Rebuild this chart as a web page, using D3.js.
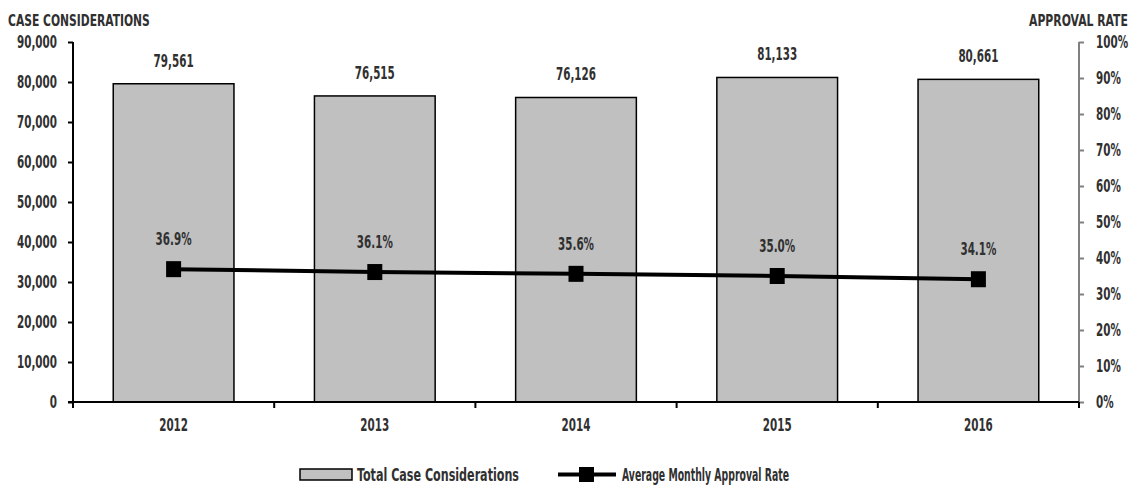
<!DOCTYPE html>
<html>
<head>
<meta charset="utf-8">
<script src="https://cdn.jsdelivr.net/npm/d3@7"></script>
<style>
  html, body { margin: 0; padding: 0; background: #fff; }
  svg text { font-family: "DejaVu Sans Condensed", "DejaVu Sans", sans-serif; font-stretch: condensed; font-weight: bold; fill: #303030; }
</style>
</head>
<body>
<svg id="chart" width="1143" height="485"></svg>
<script>
// Yearly totals and approval rates
const years = ["2012", "2013", "2014", "2015", "2016"];
const caseConsiderations = [79561, 76515, 76126, 81133, 80661];
const approvalRate = [36.9, 36.1, 35.6, 35.0, 34.1];
const leftTicks = [0, 10000, 20000, 30000, 40000, 50000, 60000, 70000, 80000, 90000];
const rightTicks = [0, 10, 20, 30, 40, 50, 60, 70, 80, 90, 100];

const svg = d3.select("#chart");
const plot = { left: 73, right: 1079, top: 42, bottom: 402 };

const x = d3.scaleBand().domain(years).range([plot.left, plot.right]).paddingInner(0).paddingOuter(0);
const yL = d3.scaleLinear().domain([0, 90000]).range([plot.bottom, plot.top]);
const yR = d3.scaleLinear().domain([0, 100]).range([plot.bottom, plot.top]);

const fmt = d3.format(",");
const fontSize = 17;

// Narrow lettering: squeeze every label horizontally by a common factor
let squeeze = 1;
function measureSqueeze() {
  const probe = svg.append("text").attr("font-size", fontSize).text("79,561");
  squeeze = 40 / probe.node().getComputedTextLength();
  probe.remove();
}
function condense(sel) {
  sel.each(function () {
    const el = d3.select(this);
    if (el.attr("textLength") || el.classed("scaled")) return;
    const len = this.getComputedTextLength();
    el.attr("textLength", len * squeeze).attr("lengthAdjust", "spacingAndGlyphs");
  });
}
function fixedWidth(sel, w) {
  return sel.attr("textLength", w).attr("lengthAdjust", "spacingAndGlyphs");
}
// A label squeezed by a transform so that it spans exactly w pixels from (x0, y0)
function scaledLabel(x0, y0, size, str, w) {
  const g = svg.append("g");
  const t = g.append("text").attr("class", "scaled").attr("font-size", size).text(str);
  const len = t.node().getComputedTextLength();
  g.attr("transform", `translate(${x0},${y0}) scale(${w / len},1)`);
  return t;
}
measureSqueeze();

// Bars
const barW = x.bandwidth() * 0.6;
svg.append("g").selectAll("rect").data(years).join("rect")
  .attr("x", d => x(d) + (x.bandwidth() - barW) / 2)
  .attr("y", (d, i) => yL(caseConsiderations[i]))
  .attr("width", barW)
  .attr("height", (d, i) => plot.bottom - yL(caseConsiderations[i]))
  .attr("fill", "#c0c0c0")
  .attr("stroke", "#000")
  .attr("stroke-width", 1.5);

// Bar value labels
svg.append("g").selectAll("text").data(years).join("text")
  .attr("x", d => x(d) + x.bandwidth() / 2)
  .attr("y", (d, i) => yL(caseConsiderations[i]) - 17)
  .attr("text-anchor", "middle")
  .attr("font-size", fontSize)
  .text((d, i) => fmt(caseConsiderations[i]));

// Left axis
const leftAxis = svg.append("g")
  .attr("transform", `translate(${plot.left},0)`)
  .call(d3.axisLeft(yL).tickValues(leftTicks).tickFormat(fmt).tickSize(5).tickPadding(11))
  .attr("font-family", null);
leftAxis.select(".domain").attr("stroke", "#000").attr("stroke-width", 2)
  .attr("d", `M0,${plot.top}V${plot.bottom}`);
leftAxis.selectAll(".tick line").attr("stroke", "#000").attr("stroke-width", 2);
leftAxis.selectAll(".tick text").attr("font-size", fontSize).attr("fill", "#303030");

// Right axis
const rightAxis = svg.append("g")
  .attr("transform", `translate(${plot.right},0)`)
  .call(d3.axisRight(yR).tickValues(rightTicks).tickFormat(d => d + "%").tickSize(5).tickPadding(12))
  .attr("font-family", null);
rightAxis.select(".domain").attr("stroke", "#808080").attr("stroke-width", 2)
  .attr("d", `M0,${plot.top}V${plot.bottom}`);
rightAxis.selectAll(".tick line").attr("stroke", "#808080").attr("stroke-width", 2);
rightAxis.selectAll(".tick text").attr("font-size", fontSize).attr("fill", "#303030");

// Bottom axis with ticks at category boundaries
const bottom = svg.append("g").attr("transform", `translate(0,${plot.bottom})`);
bottom.append("line").attr("x1", plot.left - 5).attr("x2", plot.right)
  .attr("stroke", "#000").attr("stroke-width", 2);
const boundaries = years.map(d => x(d)).concat([plot.right]);
bottom.selectAll("line.b").data(boundaries).join("line").attr("class", "b")
  .attr("x1", d => d).attr("x2", d => d).attr("y1", 0).attr("y2", 6)
  .attr("stroke", "#000").attr("stroke-width", 2);
bottom.selectAll("text").data(years).join("text")
  .attr("x", d => x(d) + x.bandwidth() / 2)
  .attr("y", 29)
  .attr("text-anchor", "middle")
  .attr("font-size", fontSize)
  .text(d => d);

// Approval rate line
const line = d3.line()
  .x((d, i) => x(years[i]) + x.bandwidth() / 2)
  .y(d => yR(d));
svg.append("path").datum(approvalRate)
  .attr("d", line).attr("fill", "none").attr("stroke", "#000").attr("stroke-width", 4);
svg.append("g").selectAll("rect").data(approvalRate).join("rect")
  .attr("x", (d, i) => x(years[i]) + x.bandwidth() / 2 - 7.5)
  .attr("y", d => yR(d) - 8)
  .attr("width", 15).attr("height", 16).attr("fill", "#000");
svg.append("g").selectAll("text").data(approvalRate).join("text")
  .attr("x", (d, i) => x(years[i]) + x.bandwidth() / 2)
  .attr("y", d => yR(d) - 24)
  .attr("text-anchor", "middle")
  .attr("font-size", fontSize)
  .text(d => d.toFixed(1) + "%");

// Axis titles
scaledLabel(8, 26, 16.5, "CASE CONSIDERATIONS", 142);
scaledLabel(1029, 26, 16.5, "APPROVAL RATE", 99);

// Legend
const lg = svg.append("g");
lg.append("rect").attr("x", 300).attr("y", 469).attr("width", 52).attr("height", 11)
  .attr("fill", "#c0c0c0").attr("stroke", "#000").attr("stroke-width", 1.5);
fixedWidth(lg.append("text").attr("x", 357).attr("y", 481).attr("font-size", fontSize)
  .text("Total Case Considerations"), 162);
lg.append("line").attr("x1", 558).attr("x2", 616).attr("y1", 474.5).attr("y2", 474.5)
  .attr("stroke", "#000").attr("stroke-width", 4);
lg.append("rect").attr("x", 579).attr("y", 467).attr("width", 15).attr("height", 15).attr("fill", "#000");
fixedWidth(lg.append("text").attr("x", 622).attr("y", 481).attr("font-size", fontSize)
  .text("Average Monthly Approval Rate"), 167);

// Apply the narrow lettering to the remaining labels
condense(svg.selectAll("text"));
</script>
</body>
</html>
